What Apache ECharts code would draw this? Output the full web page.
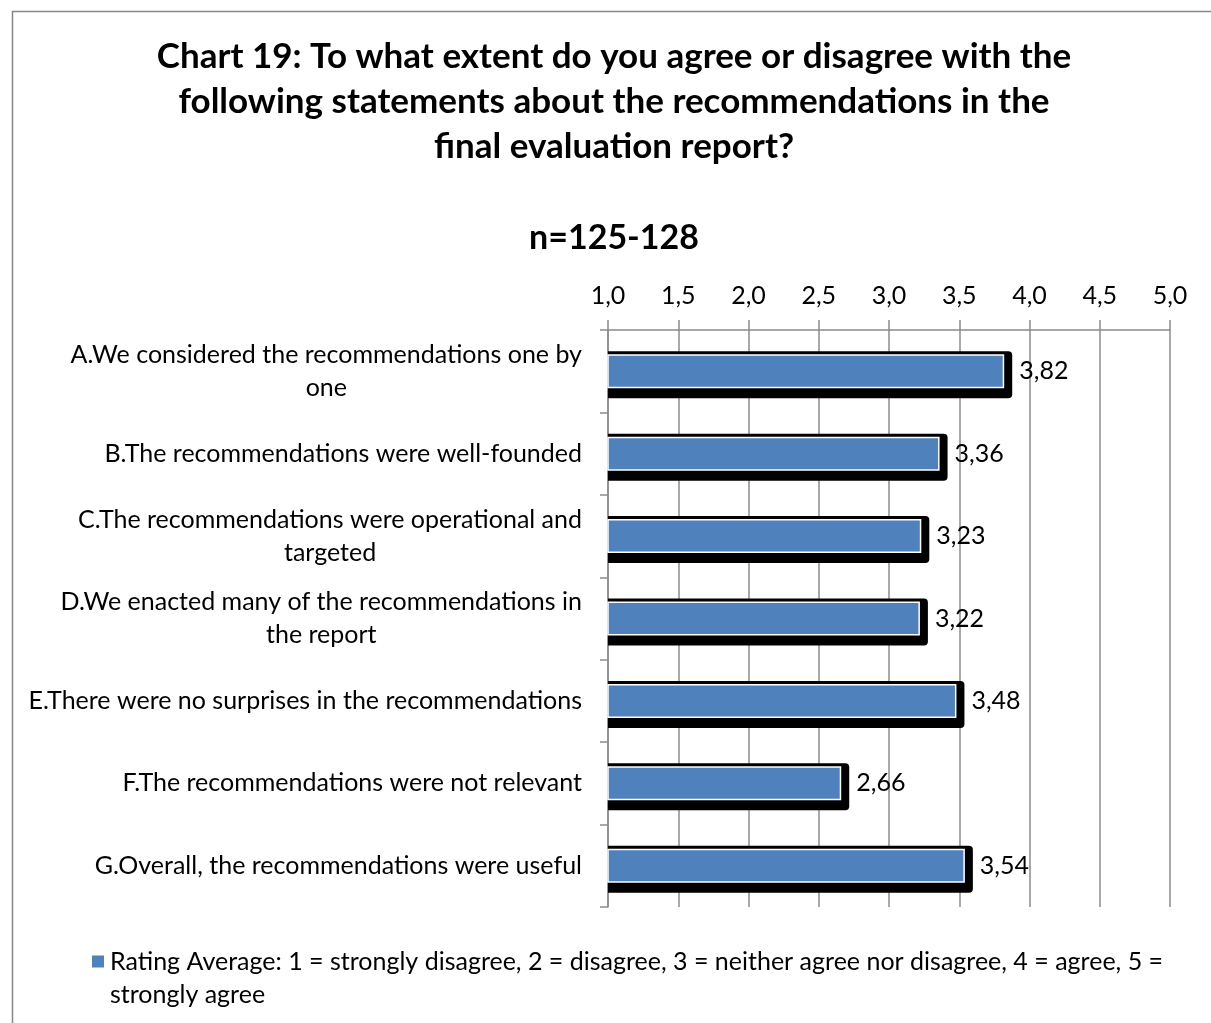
<!DOCTYPE html>
<html>
<head>
<meta charset="utf-8">
<script src="https://cdn.jsdelivr.net/npm/echarts@6/dist/echarts.min.js"></script>
<style>
  html, body { margin: 0; padding: 0; background: #fff; }
  #chart { width: 1211px; height: 1023px; }
</style>
</head>
<body>
<div id="chart"></div>
<script>
// Survey statements (line breaks where the label wraps)
const categories = [
  'A.We considered the recommendations one by\none',
  'B.The recommendations were well-founded',
  'C.The recommendations were operational and\ntargeted',
  'D.We enacted many of the recommendations in\nthe report',
  'E.There were no surprises in the recommendations',
  'F.The recommendations were not relevant',
  'G.Overall, the recommendations were useful'
];
// Rating averages per statement
const ratingAverage = [3.82, 3.36, 3.23, 3.22, 3.48, 2.66, 3.54];
const seriesName = 'Rating Average: 1 = strongly disagree, 2 = disagree, 3 = neither agree nor disagree, 4 = agree, 5 = strongly agree';
const titleText = 'Chart 19: To what extent do you agree or disagree with the\nfollowing statements about the recommendations in the\nfinal evaluation report?';
const subtitleText = 'n=125-128';

const FONT = 'Lato, "Open Sans", sans-serif';
const LABEL_SIZE = 25;
const fmtComma = (v, d) => Number(v).toFixed(d).replace('.', ',');

// Legend swatch: a square sitting level with the first line of the two-line legend text
const legendSwatch = 'path://M0,9.5h14v14h-14zM0,0h0.01v0.01h-0.01zM0,66h0.01v0.01h-0.01z';

// Hard black drop shadow behind each bar, laid out through the axes
function renderShadow(params, api) {
  const v = api.value(0);
  const i = api.value(1);
  const end = api.coord([v, i]);
  const x0 = params.coordSys.x;
  return {
    type: 'rect',
    shape: { x: x0, y: end[1] - 20, width: end[0] + 8 - x0, height: 47, r: [0, 4, 4, 0] },
    style: { fill: '#000' }
  };
}

const chart = echarts.init(document.getElementById('chart'), null, { renderer: 'canvas' });
chart.setOption({
  backgroundColor: '#fff',
  animation: false,
  textStyle: { fontFamily: FONT },
  graphic: [{
    type: 'rect',
    shape: { x: 12.5, y: 11.5, width: 1220, height: 1040 },
    style: { fill: 'none', stroke: '#878787', lineWidth: 1.5 },
    silent: true
  }],
  title: [{
    text: titleText,
    left: 614, top: 34, textAlign: 'center', padding: 0,
    textStyle: { fontFamily: FONT, fontWeight: 'bold', fontSize: 35, lineHeight: 45, color: '#000' }
  }, {
    text: subtitleText,
    left: 614, top: 221, textAlign: 'center', padding: 0,
    textStyle: { fontFamily: FONT, fontWeight: 'bold', fontSize: 34, color: '#000' }
  }],
  legend: {
    left: 90, top: 944, padding: 0,
    itemWidth: 14, itemHeight: 66, itemGap: 0,
    icon: legendSwatch,
    data: [seriesName],
    textStyle: {
      fontFamily: FONT, fontSize: LABEL_SIZE, color: '#000', lineHeight: 33,
      width: 1080, overflow: 'break'
    }
  },
  grid: { left: 608, right: 41, top: 330, bottom: 116, containLabel: false },
  xAxis: {
    type: 'value', position: 'top',
    min: 1, max: 5, interval: 0.5,
    axisLine: { show: true, lineStyle: { color: '#8c8c8c', width: 1.5 } },
    axisTick: { show: true, length: 10, lineStyle: { color: '#8c8c8c', width: 1.5 } },
    splitLine: { show: true, lineStyle: { color: '#8c8c8c', width: 1.5 } },
    axisLabel: {
      margin: 22, fontSize: LABEL_SIZE, color: '#000', fontFamily: FONT,
      formatter: v => fmtComma(v, 1)
    }
  },
  yAxis: {
    type: 'category', inverse: true, data: categories,
    axisLine: { show: true, lineStyle: { color: '#8c8c8c', width: 1.5 } },
    axisTick: { show: true, length: 8, lineStyle: { color: '#8c8c8c', width: 1.5 } },
    axisLabel: {
      margin: 26, align: 'right', color: '#000', fontFamily: FONT, fontSize: LABEL_SIZE,
      formatter: v => v.split('\n').map(l => '{c|' + l + '}').join('\n'),
      rich: { c: { align: 'center', fontSize: LABEL_SIZE, lineHeight: 33, color: '#000', fontFamily: FONT } }
    }
  },
  series: [{
    type: 'custom',
    name: 'shadow',
    silent: true,
    z: 1,
    renderItem: renderShadow,
    encode: { x: 0, y: 1 },
    data: ratingAverage.map((v, i) => [v, i])
  }, {
    name: seriesName,
    type: 'bar',
    z: 2,
    data: ratingAverage,
    barWidth: 34,
    itemStyle: {
      color: '#4f81bd',
      borderColor: '#ffffff', borderWidth: 1.5
    },
    label: {
      show: true, position: 'right', distance: 15,
      fontFamily: FONT, fontSize: LABEL_SIZE, color: '#000',
      formatter: p => fmtComma(p.value, 2)
    }
  }]
});
</script>
</body>
</html>
